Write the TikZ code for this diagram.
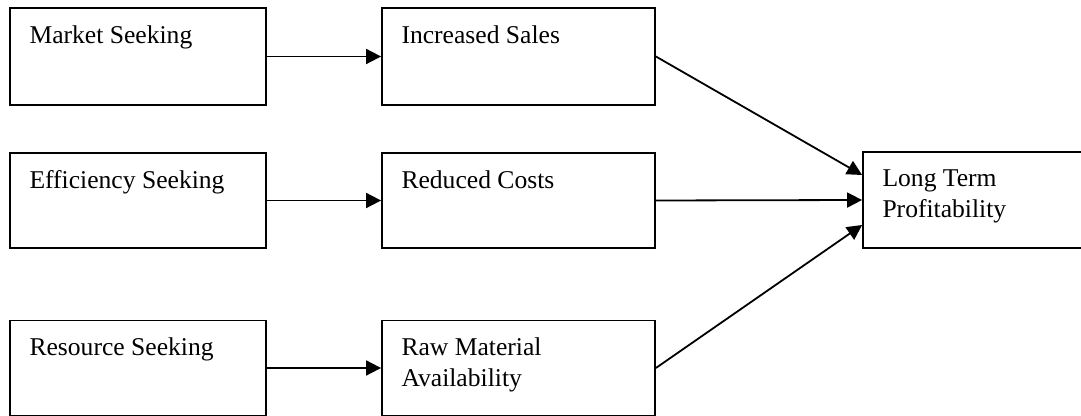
\documentclass[tikz,border=0pt]{standalone}
\usepackage{fontspec}
\setmainfont{Liberation Serif}
\usepackage{tikz}
\usetikzlibrary{shapes,arrows.meta}
\tikzstyle{arrow} = [line width=0.9pt,-{Triangle[length=7.5pt,width=7.5pt]}]
\tikzset{
  factor/.style={draw,line width=0.9pt,rectangle,inner sep=0pt,
    minimum width=128pt,minimum height=48pt,
    label={[anchor=north west,align=left,inner xsep=10pt,inner ysep=9pt,
      font=\fontsize{12.8}{15.5}\selectfont]north west:#1}},
  outcome/.style={factor=#1,minimum width=136.5pt}
}

\begin{document}
\begin{tikzpicture}[x=0.5pt,y=-0.5pt]
                        \clip (0,0) rectangle (1081,416);
                        \node[factor={Market Seeking},minimum height=48.5pt] (ms) at (138,56.5) {};
                        \node[factor={Efficiency Seeking},minimum height=47.5pt] (es) at (138,200.5) {};
                        \node[factor={Resource Seeking},minimum height=47.5pt] (rs) at (138,368) {};
                        \node[outcome={Increased Sales},minimum height=48.5pt] (is) at (518.5,56.5) {};
                        \node[outcome={Reduced Costs},minimum height=47.5pt] (rc) at (518.5,200.5) {};
                        \node[outcome={Raw Material\\Availability},minimum height=47.5pt] (rm) at (518.5,368) {};
                        \node[factor={Long Term\\Profitability},minimum width=118.5pt] (lt) at (981.5,200) {};
                        \draw[arrow] (ms.east) -- (is.west);
                        \draw[arrow] (es.east) -- (rc.west);
                        \draw[arrow] (rs.east) -- (rm.west);
                        \draw[arrow] (is.east) -- ([yshift=12.5pt]lt.west);
                        \draw[arrow] (rc.east) -- (lt.west);
                        \draw[arrow] (rm.east) -- ([yshift=-12.5pt]lt.west);
                    \end{tikzpicture}
\end{document}
